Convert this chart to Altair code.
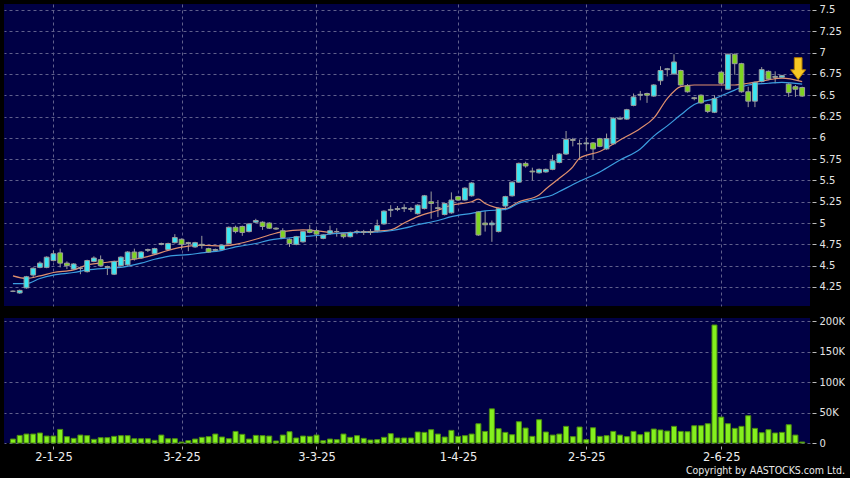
import altair as alt
import pandas as pd

# ---------------- data ----------------
opens = [4.20, 4.18, 4.24, 4.39, 4.48, 4.48, 4.56, 4.65, 4.53, 4.46,
         4.47, 4.43, 4.55, 4.57, 4.49, 4.40, 4.50, 4.51, 4.66, 4.59,
         4.68, 4.64, 4.75, 4.69, 4.77, 4.81, 4.77, 4.72, 4.75, 4.70,
         4.68, 4.69, 4.76, 4.95, 4.96, 4.90, 5.01, 5.01, 5.00, 4.94,
         4.91, 4.81, 4.75, 4.78, 4.92, 4.91, 4.82, 4.88, 4.90, 4.87,
         4.84, 4.90, 4.89, 4.90, 4.91, 4.99, 5.15, 5.16, 5.17, 5.17,
         5.11, 5.17, 5.25, 5.18, 5.10, 5.12, 5.31, 5.27, 5.32, 5.13,
         5.00, 4.98, 4.90, 5.20, 5.32, 5.48, 5.70, 5.61, 5.59, 5.60,
         5.63, 5.71, 5.81, 5.98, 5.93, 5.93, 5.94, 5.99, 5.87, 5.93,
         6.22, 6.22, 6.38, 6.50, 6.52, 6.49, 6.67, 6.80, 6.75, 6.79,
         6.61, 6.47, 6.50, 6.39, 6.30, 6.77, 6.57, 6.98, 6.87, 6.54,
         6.43, 6.66, 6.78, 6.72, 6.71, 6.63, 6.60, 6.59]
highs = [4.21, 4.22, 4.38, 4.48, 4.55, 4.61, 4.68, 4.70, 4.55, 4.53,
         4.49, 4.57, 4.61, 4.62, 4.50, 4.56, 4.61, 4.67, 4.70, 4.67,
         4.70, 4.71, 4.77, 4.77, 4.87, 4.82, 4.78, 4.78, 4.85, 4.71,
         4.70, 4.75, 4.96, 4.97, 4.97, 5.00, 5.05, 5.02, 5.01, 4.95,
         4.94, 4.82, 4.85, 4.91, 4.98, 4.93, 4.87, 4.97, 4.94, 4.88,
         4.90, 4.92, 4.92, 4.93, 5.04, 5.15, 5.21, 5.20, 5.22, 5.19,
         5.22, 5.33, 5.37, 5.27, 5.24, 5.36, 5.32, 5.42, 5.48, 5.14,
         5.14, 5.03, 5.18, 5.32, 5.49, 5.71, 5.72, 5.65, 5.64, 5.64,
         5.80, 5.82, 6.08, 6.00, 5.98, 6.00, 5.95, 6.00, 6.05, 6.24,
         6.25, 6.34, 6.52, 6.55, 6.53, 6.63, 6.84, 6.82, 6.98, 6.80,
         6.63, 6.48, 6.51, 6.40, 6.50, 6.78, 6.99, 6.99, 6.88, 6.60,
         6.66, 6.83, 6.79, 6.78, 6.74, 6.64, 6.62, 6.60]
lows = [4.19, 4.17, 4.23, 4.36, 4.47, 4.47, 4.55, 4.48, 4.46, 4.45,
        4.40, 4.42, 4.54, 4.49, 4.39, 4.39, 4.49, 4.50, 4.56, 4.58,
        4.66, 4.63, 4.74, 4.68, 4.76, 4.69, 4.67, 4.71, 4.70, 4.65,
        4.67, 4.68, 4.75, 4.88, 4.85, 4.89, 5.00, 4.92, 4.93, 4.92,
        4.82, 4.72, 4.74, 4.77, 4.88, 4.82, 4.81, 4.86, 4.84, 4.82,
        4.83, 4.87, 4.86, 4.86, 4.89, 4.98, 5.07, 5.14, 5.13, 5.13,
        5.10, 5.16, 5.05, 5.07, 5.09, 5.11, 5.26, 5.26, 5.31, 4.85,
        4.90, 4.78, 4.89, 5.15, 5.31, 5.47, 5.65, 5.50, 5.58, 5.59,
        5.62, 5.70, 5.80, 5.90, 5.74, 5.85, 5.75, 5.89, 5.86, 5.92,
        6.21, 6.21, 6.37, 6.44, 6.41, 6.48, 6.62, 6.72, 6.74, 6.61,
        6.53, 6.44, 6.40, 6.29, 6.29, 6.63, 6.56, 6.74, 6.53, 6.36,
        6.36, 6.65, 6.68, 6.64, 6.70, 6.48, 6.48, 6.48]
closes = [4.20, 4.21, 4.37, 4.47, 4.53, 4.60, 4.64, 4.53, 4.50, 4.52,
          4.47, 4.56, 4.59, 4.50, 4.48, 4.55, 4.60, 4.66, 4.58, 4.66,
          4.69, 4.70, 4.76, 4.76, 4.83, 4.75, 4.76, 4.77, 4.74, 4.66,
          4.69, 4.74, 4.95, 4.90, 4.89, 4.99, 5.03, 4.96, 4.94, 4.93,
          4.83, 4.76, 4.84, 4.90, 4.89, 4.87, 4.86, 4.91, 4.90, 4.84,
          4.89, 4.90, 4.90, 4.89, 4.97, 5.14, 5.16, 5.17, 5.18, 5.16,
          5.21, 5.32, 5.23, 5.17, 5.23, 5.27, 5.27, 5.41, 5.47, 4.86,
          4.98, 5.00, 5.17, 5.31, 5.48, 5.70, 5.67, 5.60, 5.63, 5.63,
          5.73, 5.81, 5.98, 5.97, 5.93, 5.94, 5.87, 5.90, 5.99, 6.23,
          6.23, 6.33, 6.48, 6.51, 6.50, 6.62, 6.79, 6.81, 6.89, 6.62,
          6.54, 6.46, 6.41, 6.31, 6.46, 6.64, 6.98, 6.87, 6.54, 6.43,
          6.65, 6.80, 6.69, 6.71, 6.73, 6.53, 6.57, 6.49]
volumes_k = [6.5, 12.5, 14.7, 14.7, 16.4, 11.4, 11.4, 22.3, 10.4, 7.6,
             13, 12, 6, 8.7, 8.7, 10.9, 12, 12, 7, 7,
             7, 4.4, 13, 7, 7, 1.6, 3.8, 6.5, 9.3, 10.4,
             14.7, 9.8, 7, 19, 14.2, 6.5, 12.5, 12, 11.4, 3.3,
             13, 18.5, 8.2, 11.4, 10.9, 13, 3.8, 6.5, 5.5, 14.7,
             9.3, 12, 7.6, 4.9, 5.5, 9.3, 15.3, 8.2, 8.2, 8.2,
             18, 17.4, 21.8, 14.7, 9.8, 20.7, 10.9, 12, 14.7, 31.6,
             19, 56, 23.4, 17.4, 13.6, 34.9, 24.5, 10.9, 38.2, 18,
             13, 14.7, 27.3, 10.4, 26.2, 5.5, 25, 10.9, 12, 19,
             13, 10.4, 19, 13.6, 18, 22.9, 21.3, 19.6, 27.3, 19,
             18.5, 28.3, 28.3, 31.6, 193.5, 42.5, 31.6, 24, 27.3, 44.7,
             24, 16.9, 21.8, 16.4, 17.4, 30, 13, 1.6]

ma_short_idx = [0, 2, 4, 6, 9, 11, 14, 16, 19, 21, 23, 26, 28, 31, 33, 36, 38, 40,
                43, 46, 48, 51, 53, 56, 58, 60, 63, 65, 68, 69, 70, 73, 75, 78, 79,
                81, 83, 84, 87, 90, 93, 95, 97, 99, 101, 104, 107, 109, 112, 114, 117]
ma_short_val = [4.38, 4.35, 4.38, 4.42, 4.45, 4.51, 4.54, 4.555, 4.59, 4.63, 4.68, 4.73,
                4.74, 4.73, 4.75, 4.81, 4.86, 4.90, 4.92, 4.90, 4.88, 4.89, 4.90, 4.92,
                5.00, 5.075, 5.15, 5.21, 5.25, 5.28, 5.23, 5.17, 5.25, 5.33, 5.40, 5.525,
                5.66, 5.76, 5.84, 5.975, 6.11, 6.23, 6.46, 6.60, 6.62, 6.62, 6.62, 6.64,
                6.68, 6.70, 6.66]
ma_long_idx = [0, 2, 4, 6, 9, 11, 14, 16, 19, 21, 23, 26, 28, 31, 33, 36, 38, 40,
               43, 46, 48, 51, 53, 56, 58, 60, 63, 65, 68, 70, 73, 75, 78, 80, 81,
               84, 87, 90, 93, 95, 97, 99, 101, 104, 107, 109, 112, 114, 117]
ma_long_val = [4.29, 4.29, 4.35, 4.39, 4.42, 4.45, 4.47, 4.48, 4.53, 4.575, 4.61, 4.63,
               4.65, 4.68, 4.72, 4.76, 4.80, 4.82, 4.84, 4.86, 4.88, 4.89, 4.89, 4.91,
               4.94, 4.98, 5.03, 5.075, 5.114, 5.142, 5.16, 5.232, 5.29, 5.33, 5.37,
               5.49, 5.60, 5.74, 5.87, 6.02, 6.14, 6.27, 6.39, 6.46, 6.56, 6.62, 6.64,
               6.65, 6.63]

tick_idx = [6, 25, 45, 66, 85, 105]
tick_labels = ["2-1-25", "3-2-25", "3-3-25", "1-4-25", "2-5-25", "2-6-25"]
price_ticks = [4.25, 4.5, 4.75, 5.0, 5.25, 5.5, 5.75, 6.0, 6.25, 6.5, 6.75, 7.0, 7.25, 7.5]
vol_ticks = [0, 50000, 100000, 150000, 200000]
copyright_text = "Copyright by AASTOCKS.com Ltd."

# ---------------- page: black, no margin ----------------
try:
    import altair.utils.html as _ah
    _orig_tpl = _ah.TEMPLATES["standard"]

    class _Tpl:
        def render(self, *a, **k):
            s = _orig_tpl.render(*a, **k)
            return s.replace("<head>", "<head>\n<style>html,body{margin:0;padding:0;background:#000;overflow:hidden;}</style>", 1)

    _ah.TEMPLATES["standard"] = _Tpl()
except Exception:
    pass

# ---------------- styling ----------------
NAVY = "#000045"
GRID = "#60608c"
WICK = "#9c9c9c"
CYAN = "#3BE6F2"
GREEN = "#7ED321"
LIME = "#84F01E"
LIME_STROKE = "#4C8C10"
ORANGE = "#E0906E"
BLUE = "#3C9EE0"
FONT = "DejaVu Sans"

N = len(opens)
df = pd.DataFrame({"i": list(range(N)), "open": opens, "high": highs, "low": lows,
                   "close": closes, "vol": [v * 1000 for v in volumes_k]})
ma_s = pd.DataFrame({"i": ma_short_idx, "v": ma_short_val})
ma_l = pd.DataFrame({"i": ma_long_idx, "v": ma_long_val})
arrow_df = pd.DataFrame({"i": [N - 1], "p": [highs[-1]]})

xscale = alt.Scale(domain=[-0.586, 117.42], nice=False, zero=False)
pscale = alt.Scale(domain=[4.027, 7.57], nice=False, zero=False)

label_expr = " : ".join(f"datum.value == {i} ? '{t}'" for i, t in zip(tick_idx, tick_labels)) + " : ''"

x_price = alt.X("i:Q", scale=xscale, title=None,
                axis=alt.Axis(values=tick_idx, tickCount=40, labels=False, ticks=False, domain=False,
                              grid=True, gridColor=GRID, gridDash=[3, 3], gridWidth=1))
y_price_axis = alt.Axis(orient="right", values=price_ticks, tickCount=40, format=".2~f", domain=False,
                        grid=True, gridColor=GRID, gridDash=[3, 3], gridWidth=1,
                        ticks=True, tickSize=4, tickColor="#bbbbbb", offset=2,
                        labelPadding=3, labelColor="#e4e4e4", labelFont=FONT,
                        labelFontSize=10, labelOverlap=False)

wicks = alt.Chart(df).mark_rule(color=WICK, strokeWidth=1, clip=True).encode(
    x=x_price,
    y=alt.Y("low:Q", scale=pscale, axis=y_price_axis, title=None),
    y2="high:Q",
)
bodies = alt.Chart(df).mark_bar(width=4.8, stroke=WICK, strokeWidth=1, clip=True).encode(
    x=alt.X("i:Q", scale=xscale),
    y=alt.Y("open:Q", scale=pscale),
    y2="close:Q",
    fill=alt.condition("datum.close >= datum.open", alt.value(CYAN), alt.value(GREEN)),
)
line_s = alt.Chart(ma_s).mark_line(color=ORANGE, strokeWidth=1.2, interpolate="monotone", clip=True).encode(
    x=alt.X("i:Q", scale=xscale), y=alt.Y("v:Q", scale=pscale))
line_l = alt.Chart(ma_l).mark_line(color=BLUE, strokeWidth=1.2, interpolate="monotone", clip=True).encode(
    x=alt.X("i:Q", scale=xscale), y=alt.Y("v:Q", scale=pscale))

ARROW = "M-0.35,-1 L0.35,-1 L0.35,0.1 L0.68,0.1 L0,1 L-0.68,0.1 L-0.35,0.1 Z"
arrow = alt.Chart(arrow_df).mark_point(shape=ARROW, size=484, filled=True, fill="#F8C824",
                                       stroke="#B37A00", strokeWidth=1, opacity=1,
                                       xOffset=-4, yOffset=-18).encode(
    x=alt.X("i:Q", scale=xscale), y=alt.Y("p:Q", scale=pscale))

price = alt.layer(wicks, line_s, line_l, bodies, arrow).properties(width=806, height=302)

vol_bars = alt.Chart(df).mark_bar(width=5, fill=LIME, stroke=LIME_STROKE, strokeWidth=1).encode(
    x=alt.X("i:Q", scale=xscale, title=None,
            axis=alt.Axis(values=tick_idx, tickCount=40, labelExpr=label_expr, grid=True, gridColor=GRID,
                          gridDash=[3, 3], gridWidth=1, domain=False, ticks=True, tickSize=3,
                          tickColor="#aaaaaa", offset=3, labelPadding=2, labelColor="#eeeeee",
                          labelFont=FONT, labelFontSize=11.5, labelFlush=False,
                          labelOverlap=False)),
    y=alt.Y("vol:Q", scale=alt.Scale(domain=[0, 205000], nice=False), title=None,
            axis=alt.Axis(orient="right", values=vol_ticks, tickCount=40,
                          labelExpr="datum.value == 0 ? '0' : (datum.value / 1000) + 'K'",
                          domain=False, grid=True, gridColor=GRID, gridDash=[3, 3], gridWidth=1,
                          ticks=True, tickSize=4, tickColor="#bbbbbb", offset=2,
                          labelPadding=3, labelColor="#e4e4e4", labelFont=FONT,
                          labelFontSize=10, labelOverlap=False)),
)
copy = alt.Chart(pd.DataFrame({"t": [copyright_text]})).mark_text(
    align="right", baseline="middle", fontSize=10.5, font="DejaVu Sans Condensed, DejaVu Sans",
    color="#e8e8e8").encode(x=alt.value(841), y=alt.value(153), text="t:N")

volume = alt.layer(vol_bars, copy).properties(width=806, height=125)

chart = alt.vconcat(price, volume, spacing=12, bounds="flush").properties(
    background="#000000",
    padding={"left": 4, "top": 4, "right": 0, "bottom": 0},
).configure_view(fill=NAVY, strokeWidth=0).configure_axis(
    labelOverlap=False, labelBound=False, labelFlush=False)

chart.save("out.html", embed_options={"renderer": "svg", "actions": False})
